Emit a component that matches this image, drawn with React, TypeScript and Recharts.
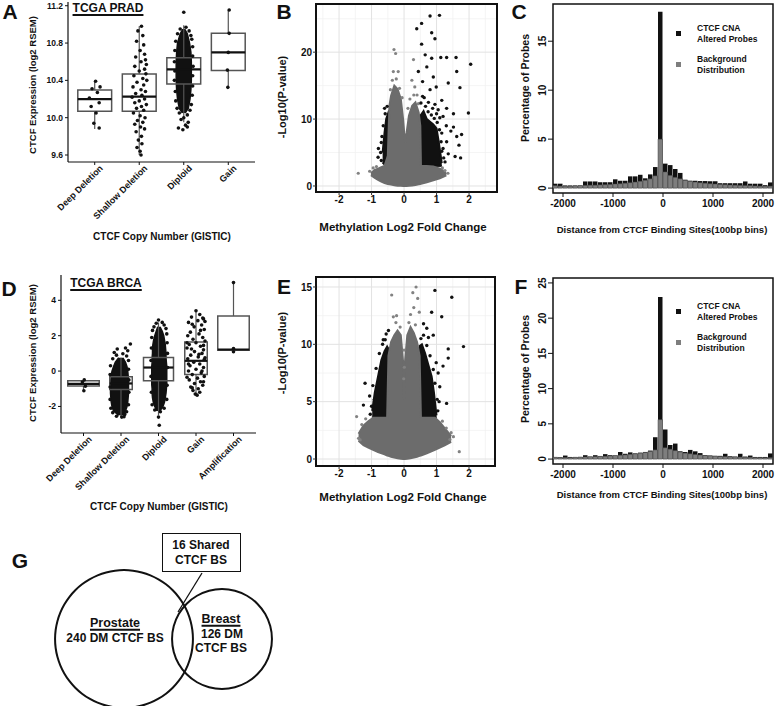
import React from 'react';
import {
  ComposedChart, XAxis, YAxis, Scatter, Area, Bar, ReferenceArea, ReferenceLine,
  CartesianGrid, PieChart, Pie,
} from 'recharts';

const FONT = '"Liberation Sans", Arial, Helvetica, sans-serif';
const INK = '#111111';
const BOX_GRAY = '#555555';
const CLOUD_GRAY = '#6c6c6c';
const BAR_GRAY = '#7e7e7e';

// ---------------- Panel A : TCGA PRAD ----------------
const pradCategories = ['Deep Deletion', 'Shallow Deletion', 'Diploid', 'Gain'];
const pradBoxes = [
  { lo: 9.88, q1: 10.07, med: 10.2, q3: 10.296, hi: 10.39 },
  { lo: 9.6, q1: 10.07, med: 10.225, q3: 10.468, hi: 10.98 },
  { lo: 9.95, q1: 10.36, med: 10.518, q3: 10.643, hi: 10.99 },
  { lo: 10.325, q1: 10.506, med: 10.7, q3: 10.904, hi: 11.154 },
];
const pradDeepPts = [[0.02, 10.39], [0.12, 10.33], [-0.06, 10.31], [0.06, 10.27], [-0.12, 10.21], [0.1, 10.16], [-0.08, 10.12], [0.03, 10.05], [-0.02, 9.94], [0.1, 9.89]];
const pradShallowPts = [[0.05, 10.98], [-0.03, 10.93], [0.08, 10.88], [-0.06, 10.82], [0.1, 10.78], [0.02, 10.72], [0.12, 10.68], [-0.08, 10.65], [0.14, 10.62], [0.04, 10.6], [0.16, 10.57], [-0.1, 10.55], [0.12, 10.52], [0.0, 10.5], [0.15, 10.47], [-0.12, 10.45], [0.08, 10.42], [0.17, 10.4], [-0.05, 10.38], [0.1, 10.35], [-0.14, 10.33], [0.04, 10.3], [0.14, 10.28], [-0.08, 10.26], [0.06, 10.24], [-0.16, 10.22], [0.12, 10.2], [0.0, 10.18], [-0.1, 10.16], [0.16, 10.14], [0.05, 10.12], [-0.06, 10.1], [0.1, 10.08], [-0.13, 10.05], [0.02, 10.02], [0.13, 10.0], [-0.04, 9.97], [0.08, 9.95], [-0.1, 9.93], [0.03, 9.9], [0.12, 9.88], [-0.07, 9.85], [0.05, 9.8], [-0.02, 9.76], [0.06, 9.72], [-0.05, 9.68], [0.02, 9.64], [0.04, 9.6]];
const pradDiploidPts = [[0.0, 11.13], [0.05, 10.97], [-0.08, 10.95], [0.12, 10.93], [-0.14, 10.9], [0.16, 10.88], [0.18, 10.84], [-0.18, 10.82], [0.2, 10.76], [-0.2, 10.72], [0.2, 10.66], [-0.21, 10.6], [0.21, 10.55], [-0.2, 10.5], [0.2, 10.45], [-0.21, 10.4], [0.2, 10.34], [-0.19, 10.28], [0.19, 10.24], [-0.18, 10.18], [0.17, 10.14], [-0.15, 10.1], [0.14, 10.08], [-0.1, 10.05], [0.08, 10.03], [0.0, 10.0], [-0.06, 9.98], [0.1, 9.95], [0.04, 9.92], [-0.12, 9.89], [0.08, 9.9], [-0.02, 9.87]];
const pradGainPts = [[0.02, 11.154], [0.02, 10.904], [0.0, 10.7], [-0.02, 10.51], [-0.01, 10.325]];
// dense core of the Diploid jitter column: [y, left offset, right offset]
const pradDiploidCore = [[10.05, -0.03, 0.03], [10.1, -0.1, 0.1], [10.2, -0.14, 0.14], [10.3, -0.16, 0.16], [10.4, -0.17, 0.17], [10.5, -0.17, 0.17], [10.6, -0.17, 0.17], [10.7, -0.16, 0.16], [10.8, -0.14, 0.13], [10.9, -0.08, 0.08], [10.95, -0.02, 0.02]];
const pradYTicks = [9.6, 10.0, 10.4, 10.8, 11.2];

// ---------------- Panel D : TCGA BRCA ----------------
const brcaCategories = ['Deep Deletion', 'Shallow Deletion', 'Diploid', 'Gain', 'Amplification'];
const brcaBoxes = [
  { lo: -1.1, q1: -0.85, med: -0.72, q3: -0.55, hi: -0.5 },
  { lo: -2.6, q1: -1.04, med: -0.7, q3: -0.32, hi: 0.75 },
  { lo: -2.5, q1: -0.55, med: 0.2, q3: 0.77, hi: 2.75 },
  { lo: -1.36, q1: -0.19, med: 0.58, q3: 1.64, hi: 3.4 },
  { lo: 1.05, q1: 1.17, med: 1.22, q3: 3.11, hi: 5.0 },
];
const brcaDeepPts = [[0.02, -0.5], [-0.03, -0.62], [0.05, -0.86], [0.01, -1.11]];
const brcaShallowPts = [[0.25, 1.53], [0.12, 1.3], [-0.1, 1.25], [0.18, 1.15], [-0.18, 1.05], [0.05, 0.98], [-0.12, 0.9], [0.15, 0.85], [-0.22, 0.7], [0.2, 0.6], [-0.28, 0.3], [0.2, 0.1], [-0.29, -0.2], [0.21, -0.5], [-0.29, -0.9], [0.21, -1.2], [-0.29, -1.6], [0.2, -1.9], [-0.27, -2.1], [0.15, -2.3], [-0.22, -2.35], [0.1, -2.45], [-0.12, -2.55], [0.02, -2.6], [0.08, -2.58]];
const brcaDiploidPts = [[0.0, 2.89], [0.1, 2.75], [-0.06, 2.7], [0.15, 2.6], [-0.12, 2.5], [0.2, 2.4], [-0.16, 2.3], [0.22, 2.1], [-0.18, 1.9], [0.23, 1.6], [-0.19, 1.3], [0.24, 1.0], [-0.2, 0.6], [0.24, 0.2], [-0.2, -0.3], [0.23, -0.8], [-0.19, -1.2], [0.22, -1.6], [-0.17, -1.9], [0.15, -2.1], [-0.1, -2.2], [0.05, -2.3], [0.0, -2.6], [0.02, -3.06]];
const brcaGainPts = [[0.0, 3.41], [0.1, 3.2], [-0.12, 3.05], [0.2, 2.95], [0.05, 2.85], [-0.2, 2.75], [0.15, 2.6], [-0.05, 2.5], [0.22, 2.35], [-0.15, 2.2], [0.08, 2.1], [-0.22, 2.0], [0.18, 1.9], [-0.08, 1.8], [0.24, 1.7], [0.0, 1.6], [-0.18, 1.5], [0.12, 1.4], [-0.24, 1.3], [0.2, 1.2], [-0.04, 1.1], [0.16, 1.0], [-0.14, 0.9], [0.06, 0.8], [-0.22, 0.7], [0.22, 0.65], [-0.06, 0.5], [0.1, 0.4], [-0.16, 0.3], [0.2, 0.2], [0.0, 0.1], [-0.2, 0.0], [0.14, -0.1], [-0.1, -0.2], [0.22, -0.3], [0.04, -0.4], [-0.18, -0.5], [0.12, -0.6], [-0.04, -0.7], [0.18, -0.8], [-0.14, -0.9], [0.06, -1.0], [-0.08, -1.1], [0.1, -1.2], [-0.02, -1.3], [0.03, -1.36], [0.18, 3.0], [0.24, 2.8], [-0.1, 2.65], [0.12, 2.3], [-0.24, 1.6], [0.2, 1.45], [-0.12, 1.25], [0.08, 0.95], [0.24, 0.75], [-0.2, 0.4], [0.16, 0.0], [-0.24, -0.35], [0.2, -0.6], [-0.1, -0.95]];
const brcaAmpPts = [[0.0, 5.0], [0.0, 1.27], [0.0, 1.09]];
const brcaShallowCore = [[-2.5, -0.06, 0.06], [-2.25, -0.2, 0.12], [-2.0, -0.24, 0.16], [-1.75, -0.26, 0.18], [-1.5, -0.27, 0.19], [-1.25, -0.28, 0.2], [-1.0, -0.28, 0.2], [-0.75, -0.28, 0.2], [-0.5, -0.27, 0.2], [-0.25, -0.26, 0.19], [0.0, -0.24, 0.18], [0.25, -0.2, 0.16], [0.5, -0.15, 0.12], [0.75, -0.06, 0.05]];
const brcaDiploidCore = [[-2.25, -0.04, 0.04], [-2.0, -0.1, 0.12], [-1.75, -0.14, 0.16], [-1.5, -0.16, 0.18], [-1.25, -0.17, 0.2], [-1.0, -0.17, 0.21], [-0.75, -0.18, 0.22], [-0.5, -0.18, 0.22], [-0.25, -0.18, 0.22], [0.0, -0.18, 0.22], [0.25, -0.18, 0.22], [0.5, -0.17, 0.21], [0.75, -0.17, 0.2], [1.0, -0.16, 0.2], [1.25, -0.16, 0.19], [1.5, -0.15, 0.18], [1.75, -0.13, 0.16], [2.0, -0.1, 0.14], [2.25, -0.06, 0.1], [2.5, -0.02, 0.04]];
const brcaYTicks = [-2, 0, 2, 4];

// ---------------- Panel B : PRAD volcano ----------------
const pradCloud = [[-1.02, 1.6, 1.9], [-0.9, 1.2, 2.4], [-0.8, 0.9, 2.6], [-0.7, 0.65, 2.8], [-0.6, 0.45, 3.0], [-0.5, 0.3, 4.5], [-0.45, 0.25, 12], [-0.4, 0.2, 13.5], [-0.3, 0.1, 15], [-0.2, 0.05, 14.5], [-0.1, 0.02, 13], [-0.03, 0, 10], [0.03, 0, 6.5], [0.08, 0.01, 8], [0.15, 0.03, 10.5], [0.25, 0.08, 12], [0.35, 0.15, 12.5], [0.45, 0.25, 11], [0.5, 0.3, 9], [0.52, 0.32, 3], [0.7, 0.55, 3], [0.9, 0.85, 2.9], [1.1, 1.15, 2.6], [1.2, 1.35, 2.3], [1.3, 1.6, 1.8]];
const pradSigLeft = [[-0.66, 3.5, 5], [-0.6, 3.2, 8], [-0.55, 3, 10], [-0.48, 3, 11], [-0.44, 3, 10.5]];
const pradSigRight = [[0.46, 3, 10.5], [0.5, 3, 10.5], [0.6, 3, 11.2], [0.7, 3, 10], [0.8, 3, 9.6], [0.9, 3, 9.2], [1.0, 3, 8.6], [1.06, 3, 6.8], [1.12, 3, 4.8], [1.16, 3, 3.4]];
const pradSigPts = [[0.8, 25.4], [1.09, 25.5], [0.54, 24.3], [0.39, 23.5], [0.85, 22.9], [0.95, 22.0], [0.54, 21.2], [0.65, 19.6], [0.85, 19.1], [1.13, 19.2], [1.31, 19.2], [1.6, 19.2], [2.05, 18.2], [1.62, 17.1], [1.72, 14.7], [1.36, 15.4], [1.31, 11.6], [1.52, 10.8], [1.98, 10.9], [1.77, 7.7], [1.62, 7.4], [1.52, 8.8], [1.69, 6.1], [1.44, 8.2], [1.57, 4.4], [1.74, 4.2], [-0.79, 5.6], [-0.8, 4.3], [0.7, 17.8], [0.9, 16.3], [0.99, 14.8], [1.16, 12.8], [0.44, 17.1], [0.57, 15.6], [0.8, 14.4], [1.05, 11.4], [1.2, 10.4], [1.3, 9.0], [1.16, 7.9], [1.31, 6.6], [1.16, 5.2], [1.36, 4.8], [0.62, 13.2], [0.75, 12.5], [0.95, 12.2], [1.1, 10.2], [-0.6, 11.6], [-0.7, 6.5], [0.52, 12.4], [0.57, 13.4], [0.66, 11.9], [0.74, 11.1], [0.84, 10.6], [0.93, 10.1], [1.02, 9.5], [1.09, 8.4], [1.14, 6.6], [1.2, 5.6], [1.22, 4.2], [1.26, 3.6], [-0.52, 11.9], [-0.58, 10.8], [-0.64, 9.0], [-0.68, 7.4], [-0.72, 5.0], [-0.7, 3.8], [0.88, 11.6], [1.0, 10.8]];
const pradNsPts = [[-0.31, 20.4], [-0.26, 19.8], [-0.33, 17.1], [-0.18, 17.1], [-1.41, 1.9], [0.29, 18.9], [0.24, 15.8], [0.33, 14.8], [-0.24, 16.0], [-0.36, 15.8], [0.4, 13.6], [0.18, 13.0], [-0.42, 14.4], [-0.14, 14.6], [-0.06, 13.2], [0.12, 11.6], [0.3, 13.6], [0.44, 12.3], [-1.06, 2.2], [-0.95, 2.7], [-0.85, 2.9], [1.18, 2.7], [1.26, 2.3], [1.35, 1.9]];

// ---------------- Panel E : BRCA volcano ----------------
const brcaCloud = [[-1.4, 1.6, 2.2], [-1.25, 1.2, 2.9], [-1.1, 1.0, 3.3], [-0.95, 0.8, 3.6], [-0.8, 0.6, 3.6], [-0.6, 0.4, 3.6], [-0.52, 0.3, 3.6], [-0.48, 0.27, 9.0], [-0.4, 0.2, 10.2], [-0.3, 0.12, 10.8], [-0.2, 0.06, 11.2], [-0.1, 0.02, 10.8], [-0.03, 0, 8.5], [0.0, 0, 5.2], [0.03, 0, 8.5], [0.1, 0.02, 10.8], [0.2, 0.06, 11.5], [0.3, 0.12, 11], [0.4, 0.2, 10.2], [0.48, 0.27, 9.0], [0.52, 0.3, 3.6], [0.7, 0.5, 3.6], [0.95, 0.8, 3.6], [1.1, 1.0, 3.2], [1.25, 1.2, 2.7], [1.45, 1.5, 2.0]];
const brcaSigLeft = [[-0.98, 3.6, 4.2], [-0.9, 3.6, 5.8], [-0.8, 3.6, 7.2], [-0.7, 3.6, 8.6], [-0.6, 3.6, 9.4], [-0.52, 3.6, 9.8], [-0.46, 3.6, 9.5]];
const brcaSigRight = [[0.46, 3.6, 9.8], [0.55, 3.6, 10], [0.65, 3.6, 9.2], [0.75, 3.6, 8.2], [0.85, 3.6, 7.2], [0.92, 3.6, 5.8], [0.97, 3.6, 4.5], [1.0, 3.6, 3.8]];
const brcaSigPts = [[0.95, 14.7], [1.47, 14.1], [0.85, 12.8], [1.16, 12.4], [1.83, 9.8], [1.36, 9.6], [1.36, 8.8], [0.9, 10.8], [0.7, 11.4], [0.6, 11.8], [-0.48, 11.2], [-0.64, 10.4], [-1.2, 6.6], [-1.25, 4.7], [-1.06, 5.5], [-0.91, 5.2], [1.31, 4.85], [1.1, 6.3], [1.05, 7.5], [0.99, 8.4], [1.2, 8.1], [-0.55, 10.9], [0.75, 10.6], [-1.0, 4.6], [1.08, 5.0], [-0.96, 6.4], [-0.86, 7.9], [-0.76, 9.2], [-0.66, 10.0], [-0.58, 10.4], [0.52, 10.5], [0.6, 10.8], [0.7, 9.9], [0.8, 9.0], [0.9, 7.8], [0.95, 6.6], [1.02, 5.2], [1.04, 4.2], [-1.04, 3.9]];
const brcaNsPts = [[-0.38, 14.3], [0.37, 15.0], [0.27, 14.5], [0.42, 14.0], [0.47, 12.8], [-0.33, 12.4], [-0.23, 12.5], [-1.46, 3.7], [-1.35, 1.66], [-1.4, 1.8], [1.52, 1.95], [1.7, 0.64], [1.41, 1.7], [0.0, 9.5], [0.01, 8.0], [-0.01, 7.0], [0.3, 13.2], [0.2, 12.6], [-0.25, 11.9], [-0.12, 11.5], [0.15, 11.9], [0.35, 11.7], [-1.3, 3.0], [-1.18, 3.5], [1.18, 3.3], [1.3, 2.7], [1.45, 2.3]];

// ---------------- Panels C and F : histograms ----------------
const binCenters = [-2150, -2050, -1950, -1850, -1750, -1650, -1550, -1450, -1350, -1250, -1150, -1050, -950, -850, -750, -650, -550, -450, -350, -250, -150, -50, 50, 150, 250, 350, 450, 550, 650, 750, 850, 950, 1050, 1150, 1250, 1350, 1450, 1550, 1650, 1750, 1850, 1950, 2050, 2150];
const pradAltered = [0.45, 0.45, 0.27, 0.27, 0.27, 0.27, 0.68, 0.68, 0.68, 0.6, 0.6, 0.6, 0.9, 0.75, 0.75, 1.2, 1.2, 1.36, 1.0, 1.4, 2.15, 18.0, 2.5, 2.35, 1.95, 1.55, 0.85, 0.75, 0.75, 0.72, 0.72, 0.7, 0.7, 0.5, 0.5, 0.5, 0.5, 0.5, 0.68, 0.45, 0.45, 0.45, 0.3, 0.58];
const pradBackground = [0.25, 0.2, 0.2, 0.2, 0.22, 0.25, 0.28, 0.3, 0.3, 0.33, 0.35, 0.38, 0.42, 0.45, 0.5, 0.55, 0.62, 0.7, 0.8, 0.95, 1.25, 5.0, 1.65, 1.3, 1.1, 0.95, 0.8, 0.7, 0.62, 0.55, 0.5, 0.45, 0.42, 0.38, 0.35, 0.32, 0.3, 0.28, 0.26, 0.25, 0.22, 0.2, 0.2, 0.2];
const brcaAltered = [0.25, 0.25, 0.5, 0.3, 0.25, 0.3, 0.55, 0.35, 0.55, 0.4, 0.7, 0.55, 0.5, 1.0, 0.75, 0.95, 0.8, 0.9, 1.0, 1.2, 3.1, 23.0, 4.2, 2.0, 2.2, 1.1, 1.0, 1.3, 1.1, 0.85, 0.55, 0.5, 0.45, 0.45, 0.75, 0.4, 0.35, 0.75, 0.35, 0.5, 0.3, 0.3, 0.3, 0.8];
const brcaBackground = [0.25, 0.22, 0.22, 0.22, 0.25, 0.28, 0.3, 0.32, 0.35, 0.38, 0.4, 0.45, 0.5, 0.55, 0.6, 0.68, 0.75, 0.85, 0.95, 1.1, 1.3, 5.6, 1.6, 1.4, 1.2, 1.0, 0.85, 0.75, 0.65, 0.58, 0.5, 0.45, 0.42, 0.38, 0.35, 0.32, 0.3, 0.28, 0.26, 0.25, 0.22, 0.22, 0.2, 0.2];
const distTicks = [-2000, -1000, 0, 1000, 2000];

// ---------------- Panel G : Venn ----------------
const vennSets = [{ name: 'Prostate', count: 240 }, { name: 'Breast', count: 126 }];
const vennShared = 16;

// ---------------- helpers ----------------
function Txt({ x, y, size, children, rotate = false, underline = false, anchor = 'center', weight = 700, lh = 1 }: any) {
  const tx = anchor === 'left' ? '0' : '-50%';
  return (
    <div
      style={{
        position: 'absolute', left: x, top: y,
        transform: `translate(${tx},-50%)${rotate ? ' rotate(-90deg)' : ''}`,
        whiteSpace: 'nowrap', fontFamily: FONT, fontWeight: weight, fontSize: size,
        lineHeight: lh, color: INK, textAlign: anchor === 'left' ? 'left' : 'center',
        textDecoration: underline ? 'underline' : 'none', textDecorationThickness: underline ? 1.5 : undefined,
        textUnderlineOffset: underline ? 2 : undefined,
      }}
    >
      {children}
    </div>
  );
}

const dot = (fill: string, r: number) => (p: any) => <circle cx={p.cx} cy={p.cy} r={r} fill={fill} />;

function CatTick(props: any) {
  const { x, y, payload, labels } = props;
  const label = labels[Math.round(payload.value) - 1] ?? '';
  return (
    <text transform={`translate(${x + 4},${y - 1}) rotate(-45)`} x={0} y={0} dy="0.75em" textAnchor="end"
      fill={INK} fontSize={9} fontWeight={700} fontFamily={FONT}>{label}</text>
  );
}

function VTick(props: any) {
  const { x, y, payload } = props;
  return (
    <text x={x} y={y} transform={`rotate(-90 ${x} ${y})`} textAnchor="middle" fill={INK}
      fontSize={10} fontWeight={700} fontFamily={FONT}>{payload.value}</text>
  );
}

function BoxPanel(p: any) {
  const n = p.categories.length;
  const points = p.pointSets.flatMap((set: number[][], i: number) => set.map(([dx, y]) => ({ x: i + 1 + dx, y })));
  return (
    <div style={{ position: 'absolute', left: p.left, top: p.top }}>
      <ComposedChart width={p.width} height={p.height} layout="vertical" margin={p.margin}>
        <XAxis type="number" dataKey="x" domain={[0.4, n + 0.6]} allowDataOverflow
          ticks={p.categories.map((_: string, i: number) => i + 1)} interval={0}
          tick={(tp: any) => <CatTick {...tp} labels={p.categories} />}
          height={p.xAxisHeight} tickSize={3} tickMargin={0}
          axisLine={{ stroke: INK, strokeWidth: 1.2 }} tickLine={{ stroke: INK }} />
        <YAxis type="number" dataKey="y" domain={p.yDomain} allowDataOverflow reversed ticks={p.yTicks} interval={0}
          width={p.yAxisWidth} tickFormatter={p.yFormat} tickSize={3} tickMargin={2}
          tick={{ fill: INK, fontSize: 8.5, fontWeight: 700, fontFamily: FONT }}
          axisLine={{ stroke: INK, strokeWidth: 1.2 }} tickLine={{ stroke: INK }} />
        {p.cores.map(({ cat, rows }: any, k: number) => (
          <Area key={`core${k}`} data={rows.map(([y, a, b]: number[]) => ({ y, w: [cat + a, cat + b] }))}
            dataKey="w" type="linear" fill={INK} fillOpacity={1} stroke={INK} strokeWidth={1.5}
            isAnimationActive={false} dot={false} activeDot={false} />
        ))}
        {p.boxes.flatMap((b: any, i: number) => {
          const c = i + 1;
          const hw = p.halfWidths[i];
          return [
            <ReferenceLine key={`wu${i}`} segment={[{ x: c, y: b.q3 }, { x: c, y: b.hi }]} stroke={BOX_GRAY} strokeWidth={1.2} ifOverflow="visible" />,
            <ReferenceLine key={`wl${i}`} segment={[{ x: c, y: b.lo }, { x: c, y: b.q1 }]} stroke={BOX_GRAY} strokeWidth={1.2} ifOverflow="visible" />,
            <ReferenceArea key={`bx${i}`} x1={c - hw} x2={c + hw} y1={b.q1} y2={b.q3} fill="none" fillOpacity={0} stroke={BOX_GRAY} strokeWidth={1.5} ifOverflow="visible" />,
            <ReferenceLine key={`md${i}`} segment={[{ x: c - hw, y: b.med }, { x: c + hw, y: b.med }]} stroke={INK} strokeWidth={2.2} ifOverflow="visible" />,
          ];
        })}
        <Scatter data={points} isAnimationActive={false} shape={dot(INK, 1.8)} />
      </ComposedChart>
    </div>
  );
}

const envRows = (env: number[][]) => env.map(([x, lo, hi]) => ({ x, r: [lo, hi] }));
const ptRows = (pts: number[][]) => pts.map(([x, y]) => ({ x, y }));

function VolcanoPanel(p: any) {
  const [x0, x1] = p.xDomain;
  const [y0, y1] = p.yDomain;
  return (
    <div style={{ position: 'absolute', left: p.left, top: p.top }}>
      <ComposedChart width={p.width} height={p.height} margin={p.margin}>
        <CartesianGrid stroke="#f1f1f1" strokeWidth={0.8} verticalValues={[-2.5, -1.5, -0.5, 0.5, 1.5, 2.5]} horizontalValues={p.minorY} />
        <CartesianGrid stroke="#e2e2e2" strokeWidth={1} />
        <XAxis type="number" dataKey="x" domain={p.xDomain} allowDataOverflow ticks={[-2, -1, 0, 1, 2]} interval={0}
          height={p.xAxisHeight} axisLine={false} tickSize={3} tickMargin={1} tickLine={{ stroke: '#333' }}
          tick={{ fill: INK, fontSize: 10, fontWeight: 700, fontFamily: FONT }} />
        <YAxis type="number" dataKey="y" domain={p.yDomain} allowDataOverflow ticks={p.yTicks} interval={0}
          width={p.yAxisWidth} axisLine={false} tickSize={3} tickMargin={1} tickLine={{ stroke: '#333' }}
          tick={{ fill: INK, fontSize: 10, fontWeight: 700, fontFamily: FONT }} />
        <Area data={envRows(p.sigLeft)} dataKey="r" type="linear" fill={INK} fillOpacity={1} stroke={INK} strokeWidth={2} isAnimationActive={false} dot={false} activeDot={false} />
        <Area data={envRows(p.sigRight)} dataKey="r" type="linear" fill={INK} fillOpacity={1} stroke={INK} strokeWidth={2} isAnimationActive={false} dot={false} activeDot={false} />
        <Area data={envRows(p.cloud)} dataKey="r" type="linear" fill={CLOUD_GRAY} fillOpacity={1} stroke={CLOUD_GRAY} strokeWidth={2} isAnimationActive={false} dot={false} activeDot={false} />
        <Scatter data={ptRows(p.nsPts)} isAnimationActive={false} shape={dot('#828282', 1.6)} />
        <Scatter data={ptRows(p.sigPts)} isAnimationActive={false} shape={dot(INK, 1.7)} />
        <ReferenceArea x1={x0} x2={x1} y1={y0} y2={y1} fill="none" fillOpacity={0} stroke={INK} strokeWidth={2} ifOverflow="visible" />
      </ComposedChart>
    </div>
  );
}

function HistPanel(p: any) {
  const rows = binCenters.map((b, i) => ({ bin: b, altered: p.altered[i], background: p.background[i] }));
  return (
    <div style={{ position: 'absolute', left: p.left, top: p.top }}>
      <ComposedChart width={p.width} height={p.height} data={rows} margin={p.margin} barGap={0} barCategoryGap={0}>
        <XAxis xAxisId="main" type="number" dataKey="bin" domain={[-2200, 2200]} allowDataOverflow ticks={distTicks} interval={0}
          height={p.xAxisHeight} axisLine={false} tickSize={4} tickMargin={3} tickLine={{ stroke: INK }}
          tick={{ fill: INK, fontSize: 10, fontWeight: 700, fontFamily: FONT }} />
        <XAxis xAxisId="bg" orientation="top" type="number" dataKey="bin" domain={[-2200, 2200]} allowDataOverflow hide height={0} />
        <YAxis type="number" domain={p.yDomain} allowDataOverflow ticks={p.yTicks} interval={0} width={p.yAxisWidth}
          axisLine={false} tickSize={5} tickMargin={2} tickLine={{ stroke: INK }} tick={(tp: any) => <VTick {...tp} />} />
        <Bar xAxisId="main" dataKey="altered" fill={INK} barSize={5} isAnimationActive={false} />
        <Bar xAxisId="bg" dataKey="background" fill={BAR_GRAY} stroke="#444" strokeWidth={0.5} barSize={5} isAnimationActive={false} />
        <ReferenceArea xAxisId="main" x1={-2200} x2={2200} y1={p.yDomain[0]} y2={p.yDomain[1]} fill="none" fillOpacity={0} stroke={INK} strokeWidth={1.5} ifOverflow="visible" />
      </ComposedChart>
    </div>
  );
}

function HistLegend({ x, y1, y2 }: any) {
  return (
    <>
      <div style={{ position: 'absolute', left: x - 2, top: y1 + 3, width: 5, height: 5, background: INK }} />
      <div style={{ position: 'absolute', left: x - 2, top: y2 + 3, width: 5, height: 5, background: BAR_GRAY }} />
      <div style={{ position: 'absolute', left: x + 19, top: y1 - 5, fontFamily: FONT, fontWeight: 700, fontSize: 8.5, lineHeight: '10.5px', color: INK, whiteSpace: 'nowrap' }}>CTCF CNA<br />Altered Probes</div>
      <div style={{ position: 'absolute', left: x + 19, top: y2 - 5, fontFamily: FONT, fontWeight: 700, fontSize: 8.5, lineHeight: '10.5px', color: INK, whiteSpace: 'nowrap' }}>Background<br />Distribution</div>
    </>
  );
}

const VENN_SCALE = 4.45;
const VENN_CX = [119, 217];

export default function App() {
  return (
    <div style={{ position: 'absolute', left: 0, top: 0, width: 778, height: 706, background: '#fff', overflow: 'hidden', fontFamily: FONT }}>
      {/* Panel A */}
      <BoxPanel left={0} top={0} width={262} height={240} margin={{ top: 2, right: 7, bottom: 0, left: 0 }}
        yAxisWidth={68} xAxisHeight={78} categories={pradCategories} boxes={pradBoxes} halfWidths={[0.38, 0.38, 0.38, 0.38]}
        pointSets={[pradDeepPts, pradShallowPts, pradDiploidPts, pradGainPts]}
        cores={[{ cat: 3, rows: pradDiploidCore }]} yDomain={[9.525, 11.24]} yTicks={pradYTicks} yFormat={(v: number) => v.toFixed(1)} />
      <Txt x={10} y={11} size={21}>A</Txt>
      <Txt x={108} y={8} size={12} underline>TCGA PRAD</Txt>
      <Txt x={33} y={85} size={9.5} rotate>CTCF Expression (log2 RSEM)</Txt>
      <Txt x={162} y={237} size={10}>CTCF Copy Number (GISTIC)</Txt>

      {/* Panel D */}
      <BoxPanel left={0} top={240} width={262} height={270} margin={{ top: 35, right: 6, bottom: 0, left: 0 }}
        yAxisWidth={61} xAxisHeight={77} categories={brcaCategories} boxes={brcaBoxes} halfWidths={[0.42, 0.3, 0.4, 0.3, 0.42]}
        pointSets={[brcaDeepPts, brcaShallowPts, brcaDiploidPts, brcaGainPts, brcaAmpPts]}
        cores={[{ cat: 2, rows: brcaShallowCore }, { cat: 3, rows: brcaDiploidCore }]} yDomain={[-3.5, 5.43]} yTicks={brcaYTicks} yFormat={(v: number) => String(v)} />
      <Txt x={9} y={288} size={21}>D</Txt>
      <Txt x={106} y={283} size={12} underline>TCGA BRCA</Txt>
      <Txt x={33} y={353} size={9.5} rotate>CTCF Expression (log2 RSEM)</Txt>
      <Txt x={159} y={507} size={10}>CTCF Copy Number (GISTIC)</Txt>

      {/* Panel B */}
      <VolcanoPanel left={250} top={0} width={258} height={240} margin={{ top: 4, right: 11, bottom: 0, left: 0 }}
        yAxisWidth={66} xAxisHeight={48} xDomain={[-2.71, 2.86]} yDomain={[-0.9, 27.2]} yTicks={[0, 10, 20]} minorY={[5, 15, 25]}
        cloud={pradCloud} sigLeft={pradSigLeft} sigRight={pradSigRight} sigPts={pradSigPts} nsPts={pradNsPts} />
      <Txt x={284} y={11} size={21}>B</Txt>
      <Txt x={282} y={97} size={11} rotate>-Log10(P-value)</Txt>
      <Txt x={403} y={228} size={11.5}>Methylation Log2 Fold Change</Txt>

      {/* Panel E */}
      <VolcanoPanel left={250} top={240} width={258} height={260} margin={{ top: 37, right: 13, bottom: 0, left: 0 }}
        yAxisWidth={66} xAxisHeight={34} xDomain={[-2.71, 2.8]} yDomain={[-0.61, 15.87]} yTicks={[0, 5, 10, 15]} minorY={[2.5, 7.5, 12.5]}
        cloud={brcaCloud} sigLeft={brcaSigLeft} sigRight={brcaSigRight} sigPts={brcaSigPts} nsPts={brcaNsPts} />
      <Txt x={284} y={286} size={21}>E</Txt>
      <Txt x={282} y={353} size={11} rotate>-Log10(P-value)</Txt>
      <Txt x={403} y={498} size={11.5}>Methylation Log2 Fold Change</Txt>

      {/* Panel C */}
      <HistPanel left={510} top={0} width={268} height={240} margin={{ top: 4, right: 5, bottom: 0, left: 0 }}
        yAxisWidth={43} xAxisHeight={47} yDomain={[-0.5, 18.8]} yTicks={[0, 5, 10, 15]} altered={pradAltered} background={pradBackground} />
      <Txt x={519} y={11} size={21}>C</Txt>
      <Txt x={525} y={88} size={10.5} rotate>Percentage of Probes</Txt>
      <Txt x={662} y={230} size={9.5}>Distance from CTCF Binding Sites(100bp bins)</Txt>
      <HistLegend x={678} y1={28} y2={59} />

      {/* Panel F */}
      <HistPanel left={510} top={240} width={268} height={260} margin={{ top: 38, right: 5, bottom: 0, left: 0 }}
        yAxisWidth={43} xAxisHeight={36} yDomain={[-0.7, 25.7]} yTicks={[0, 5, 10, 15, 20, 25]} altered={brcaAltered} background={brcaBackground} />
      <Txt x={521} y={286} size={21}>F</Txt>
      <Txt x={525} y={369} size={10.5} rotate>Percentage of Probes</Txt>
      <Txt x={662} y={495} size={9.5}>Distance from CTCF Binding Sites(100bp bins)</Txt>
      <HistLegend x={678} y1={306} y2={337} />

      {/* Panel G */}
      <div style={{ position: 'absolute', left: 0, top: 540 }}>
        <PieChart width={300} height={166}>
          {vennSets.map((s, i) => {
            const r = Math.sqrt(s.count) * VENN_SCALE;
            return (
              <Pie key={s.name} data={[s]} dataKey="count" nameKey="name" cx={VENN_CX[i]} cy={94}
                innerRadius={r - 1} outerRadius={r + 1} startAngle={90} endAngle={450}
                fill={INK} stroke="none" isAnimationActive={false} />
            );
          })}
        </PieChart>
      </div>
      <svg style={{ position: 'absolute', left: 0, top: 0 }} width={778} height={706} pointerEvents="none">
        <line x1={202} y1={573} x2={178} y2={612} stroke={INK} strokeWidth={1.3} />
      </svg>
      <div style={{ position: 'absolute', left: 162, top: 533, width: 79, height: 39, boxSizing: 'border-box', border: `1.6px solid ${INK}`, background: '#fff' }} />
      <Txt x={201} y={545} size={12}>{`${vennShared} Shared`}</Txt>
      <Txt x={201} y={560} size={12}>CTCF BS</Txt>
      <Txt x={20} y={560} size={21}>G</Txt>
      <Txt x={115} y={623} size={12.5} underline>{vennSets[0].name}</Txt>
      <Txt x={115} y={638} size={12}>{`${vennSets[0].count} DM CTCF BS`}</Txt>
      <Txt x={221} y={619} size={12.5} underline>{vennSets[1].name}</Txt>
      <Txt x={222} y={634} size={12}>{`${vennSets[1].count} DM`}</Txt>
      <Txt x={221} y={648} size={12}>CTCF BS</Txt>
    </div>
  );
}
